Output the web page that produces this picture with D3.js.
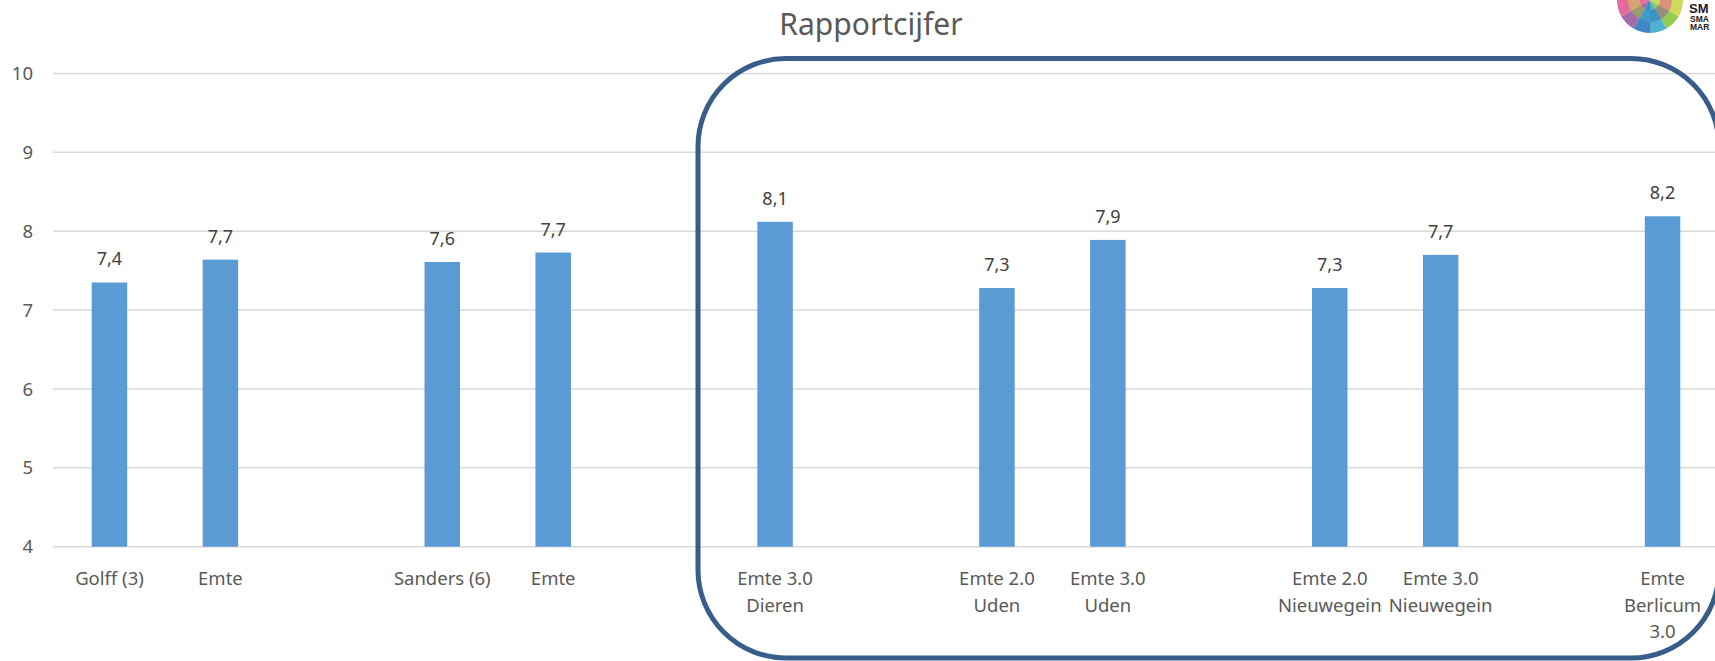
<!DOCTYPE html>
<html>
<head>
<meta charset="utf-8">
<script src="https://cdn.jsdelivr.net/npm/d3@7"></script>
<style>
  html, body { margin: 0; padding: 0; background: #ffffff; }
  svg { display: block; font-family: "Noto Sans", "Open Sans", sans-serif; }
</style>
</head>
<body>
<svg id="chart" width="1715" height="661"></svg>
<script>
// ---- data ----
const categories = [
  "Golff (3)", "Emte", "",
  "Sanders (6)", "Emte", "",
  "Emte 3.0\nDieren", "",
  "Emte 2.0\nUden", "Emte 3.0\nUden", "",
  "Emte 2.0\nNieuwegein", "Emte 3.0\nNieuwegein", "",
  "Emte\nBerlicum\n3.0"
];
const values = [7.35, 7.64, null, 7.61, 7.73, null, 8.12, null, 7.28, 7.89, null, 7.28, 7.70, null, 8.19];
const valueLabels = ["7,4", "7,7", "", "7,6", "7,7", "", "8,1", "", "7,3", "7,9", "", "7,3", "7,7", "", "8,2"];
const yTicks = [4, 5, 6, 7, 8, 9, 10];
const title = "Rapportcijfer";

// ---- layout ----
const svg = d3.select("#chart");
const plotLeft = 54, plotRight = 1718;
const x = d3.scaleBand().domain(d3.range(categories.length)).range([plotLeft, plotRight]).paddingInner(0.68).paddingOuter(0.34);
const y = d3.scaleLinear().domain([4, 10]).range([546.7, 73.5]);

const textColor = "#595959";

// title
svg.append("text")
  .attr("x", 871).attr("y", 35)
  .attr("text-anchor", "middle")
  .attr("font-size", 30)
  .attr("fill", textColor)
  .text(title);

// gridlines
svg.append("g").selectAll("line").data(yTicks).join("line")
  .attr("x1", 53).attr("x2", plotRight)
  .attr("y1", d => y(d)).attr("y2", d => y(d))
  .attr("stroke", "#d9d9d9").attr("stroke-width", 1.5);

// y tick labels
svg.append("g").selectAll("text").data(yTicks).join("text")
  .attr("x", 33).attr("y", d => y(d))
  .attr("dy", "0.36em")
  .attr("text-anchor", "end")
  .attr("font-size", 18.5)
  .attr("fill", textColor)
  .text(d => d);

// bars
const idx = d3.range(categories.length).filter(i => values[i] != null);
svg.append("g").selectAll("rect").data(idx).join("rect")
  .attr("x", i => x(i))
  .attr("width", x.bandwidth())
  .attr("y", i => y(values[i]))
  .attr("height", i => y(4) - y(values[i]))
  .attr("fill", "#5b9bd5");

// value labels
svg.append("g").selectAll("text").data(idx).join("text")
  .attr("x", i => x(i) + x.bandwidth() / 2)
  .attr("y", i => y(values[i]) - 17)
  .attr("text-anchor", "middle")
  .attr("font-size", 18)
  .attr("fill", "#404040")
  .text(i => valueLabels[i]);

// category labels
const catG = svg.append("g");
d3.range(categories.length).forEach(i => {
  if (!categories[i]) return;
  const lines = categories[i].split("\n");
  const cx = x(i) + x.bandwidth() / 2;
  const t = catG.append("text")
    .attr("x", cx)
    .attr("y", 585)
    .attr("text-anchor", "middle")
    .attr("font-size", 18.5)
    .attr("fill", textColor);
  lines.forEach((ln, k) => {
    t.append("tspan")
      .attr("x", cx)
      .attr("y", 585 + k * 26.5)
      .text(ln);
  });
});

// rounded highlight frame
svg.append("rect")
  .attr("x", 698).attr("y", 58.5)
  .attr("width", 1021).attr("height", 599.5)
  .attr("rx", 88).attr("ry", 88)
  .attr("fill", "none")
  .attr("stroke", "#385d8a")
  .attr("stroke-width", 5);

// logo (decorative)
const logo = svg.append("g");
const logoColors = ["#e8413a", "#f39a2b", "#f7d046", "#c8d64a", "#8cc63f", "#3fa9c9", "#2a7bbf", "#9b5aa5", "#e05b96", "#f06b4a", "#fbb03b", "#f28cb1"];
const pie = d3.pie().value(1).sort(null);
const lg = logo.append("g").attr("transform", "translate(1650,0)");
lg.selectAll("path.outer").data(pie(logoColors)).join("path")
  .attr("class", "outer")
  .attr("d", d3.arc().innerRadius(0).outerRadius(33))
  .attr("fill", d => d.data).attr("opacity", 0.9);
lg.selectAll("path.inner").data(pie(logoColors.slice().reverse())).join("path")
  .attr("class", "inner")
  .attr("d", d3.arc().innerRadius(10).outerRadius(22))
  .attr("fill", d => d.data).attr("opacity", 0.55);
logo.append("text").attr("x", 1689).attr("y", 13).attr("font-size", 13).attr("font-weight", "bold")
  .attr("fill", "#1a1a1a").attr("font-family", "Liberation Sans, sans-serif").text("SM");
logo.append("text").attr("x", 1690).attr("y", 21.5).attr("font-size", 8.5).attr("font-weight", "bold")
  .attr("fill", "#1a1a1a").attr("font-family", "Liberation Sans, sans-serif").text("SMA");
logo.append("text").attr("x", 1690).attr("y", 30).attr("font-size", 8.5).attr("font-weight", "bold")
  .attr("fill", "#1a1a1a").attr("font-family", "Liberation Sans, sans-serif").text("MAR");
</script>
</body>
</html>
